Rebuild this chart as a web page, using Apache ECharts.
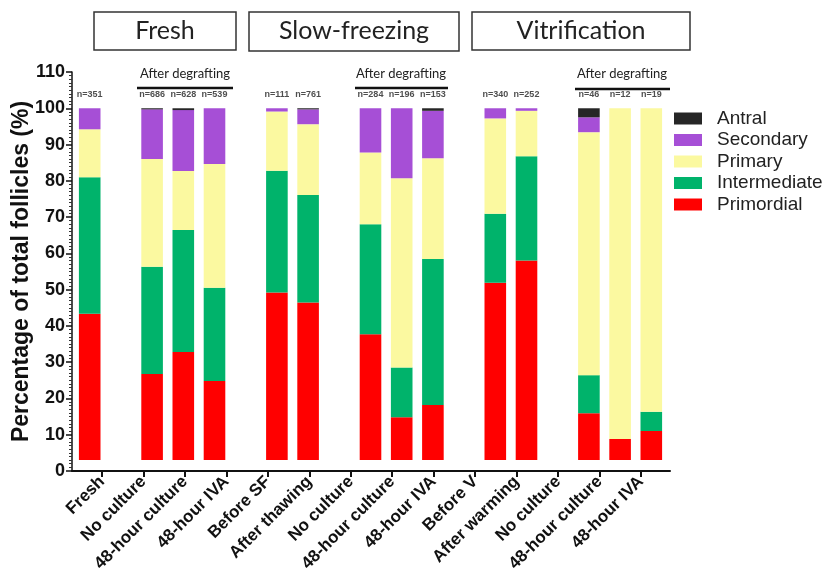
<!DOCTYPE html>
<html>
<head>
<meta charset="utf-8">
<title>Follicle stages</title>
<script src="https://cdn.jsdelivr.net/npm/echarts@6/dist/echarts.min.js"></script>
<style>
  html, body { margin: 0; padding: 0; background: #fff; }
  #chart { width: 831px; height: 583px; }
</style>
</head>
<body>
<div id="chart"></div>
<script>
const categories = ["Fresh", "No culture", "48-hour culture", "48-hour IVA", "Before SF", "After thawing",
  "No culture", "48-hour culture", "48-hour IVA", "Before V", "After warming", "No culture",
  "48-hour culture", "48-hour IVA"];
const nCounts = [351, 686, 628, 539, 111, 761, 284, 196, 153, 340, 252, 46, 12, 19];
const primordial = [43.3, 26.7, 32.8, 24.8, 49.2, 46.4, 37.7, 14.8, 18.2, 51.9, 58.0, 15.9, 8.8, 11.0];
const intermediate = [37.7, 29.6, 33.6, 25.7, 33.6, 29.7, 30.3, 13.7, 40.2, 19.0, 28.8, 10.5, 0, 5.3];
const primary = [13.2, 29.7, 16.3, 34.1, 16.3, 19.5, 19.8, 52.2, 27.8, 26.3, 12.5, 67.0, 91.2, 83.7];
const secondary = [5.8, 13.7, 16.8, 15.4, 0.9, 4.1, 12.2, 19.3, 13.1, 2.8, 0.7, 4.1, 0, 0];
const antral = [0, 0.3, 0.5, 0, 0, 0.3, 0, 0, 0.7, 0, 0, 2.5, 0, 0];
const groupSizes = [1, 3, 2, 3, 2, 3];
const yMin = 0, yMax = 110, yStep = 10;

// bars sit in slots, one empty slot between groups
const slotOf = [];
let s = 0;
groupSizes.forEach(size => {
  for (let i = 0; i < size; i++) slotOf.push(s++);
  s++;
});
const slotCount = s - 1;
const barAt = {};
slotOf.forEach((slot, i) => { barAt[slot] = i; });
function toSlots(arr) {
  const out = new Array(slotCount).fill(null);
  arr.forEach((v, i) => { out[slotOf[i]] = v; });
  return out;
}
const totals = primordial.map((v, i) => v + intermediate[i] + primary[i] + secondary[i] + antral[i]);

const myChart = echarts.init(document.getElementById("chart"));
const fontColor = "#111";
const axisFont = "Liberation Sans";

function barSeries(name, data, color) {
  return {
    name: name,
    type: "bar",
    stack: "total",
    xAxisIndex: 2,
    yAxisIndex: 2,
    barWidth: 21.6,
    clip: true,
    itemStyle: { color: color },
    data: toSlots(data),
  };
}

const option = {
  animation: false,
  grid: [
    { left: 72, top: 72, width: 598, height: 399, containLabel: false, outerBoundsMode: "none" },
    { left: 81.3, top: 72, width: 580.4, height: 399, containLabel: false, outerBoundsMode: "none" },
    { left: 74.1, top: 72, width: 592.8, height: 388, containLabel: false, outerBoundsMode: "none" },
  ],
  legend: {
    orient: "vertical",
    left: 674,
    top: 109,
    padding: 0,
    itemWidth: 28,
    itemHeight: 12,
    itemGap: 2.5,
    icon: "rect",
    data: ["Antral", "Secondary", "Primary", "Intermediate", "Primordial"],
    textStyle: {
      fontFamily: axisFont,
      fontSize: 19,
      lineHeight: 19,
      color: "#222",
      padding: [0, 0, 0, 10],
    },
  },
  xAxis: [
    {
      gridIndex: 0,
      type: "value",
      min: 0,
      max: 1,
      axisLine: { show: true, lineStyle: { color: fontColor, width: 2 } },
      axisTick: { show: false },
      axisLabel: { show: false },
      splitLine: { show: false },
    },
    {
      gridIndex: 1,
      type: "category",
      data: categories,
      axisLine: { show: false },
      axisTick: {
        show: true,
        alignWithLabel: true,
        length: 6,
        lineStyle: { color: fontColor, width: 2 },
      },
      axisLabel: {
        interval: 0,
        rotate: 45,
        margin: 8,
        color: fontColor,
        fontFamily: axisFont,
        fontWeight: "bold",
        fontSize: 17,
      },
      splitLine: { show: false },
    },
    {
      gridIndex: 2,
      type: "category",
      data: new Array(slotCount).fill(""),
      show: false,
    },
  ],
  yAxis: [
    {
      gridIndex: 0,
      type: "value",
      min: yMin,
      max: yMax,
      interval: yStep,
      name: "Percentage of total follicles (%)",
      nameLocation: "middle",
      nameGap: 39,
      nameMoveOverlap: false,
      nameTextStyle: {
        color: fontColor,
        fontFamily: axisFont,
        fontWeight: "bold",
        fontSize: 23,
      },
      axisLine: { show: true, lineStyle: { color: fontColor, width: 1.5 } },
      axisTick: { show: true, length: 6, lineStyle: { color: fontColor, width: 1.5 } },
      minorTick: { show: true, splitNumber: 10, length: 3, lineStyle: { color: "#333", width: 1 } },
      axisLabel: {
        margin: 7,
        color: fontColor,
        fontFamily: axisFont,
        fontWeight: "bold",
        fontSize: 18,
      },
      splitLine: { show: false },
    },
    { gridIndex: 1, type: "value", min: yMin, max: yMax, show: false },
    // bars in the picture start a little above the zero line
    { gridIndex: 2, type: "value", min: 3, max: yMax, show: false },
  ],
  series: [
    barSeries("Primordial", primordial, "#ff0000"),
    barSeries("Intermediate", intermediate, "#00b36b"),
    barSeries("Primary", primary, "#fbf9a0"),
    barSeries("Secondary", secondary, "#a64fd6"),
    barSeries("Antral", antral, "#262626"),
    {
      name: "n",
      type: "scatter",
      xAxisIndex: 2,
      yAxisIndex: 2,
      symbolSize: 0,
      silent: true,
      label: {
        show: true,
        position: "top",
        distance: 9,
        color: "#222",
        fontFamily: axisFont,
        fontWeight: "bold",
        fontSize: 9,
        formatter: p => "n=" + nCounts[barAt[p.dataIndex]],
      },
      data: toSlots(totals),
    },
  ],
  graphic: [
    { type: "rect", shape: { x: 94, y: 12, width: 142, height: 38 }, style: { fill: "#fff", stroke: "#333", lineWidth: 1.5 } },
    { type: "rect", shape: { x: 249, y: 12, width: 210, height: 39 }, style: { fill: "#fff", stroke: "#333", lineWidth: 1.5 } },
    { type: "rect", shape: { x: 472, y: 12, width: 218, height: 38 }, style: { fill: "#fff", stroke: "#333", lineWidth: 1.5 } },
    { type: "text", style: { text: "Fresh", x: 165, y: 31, align: "center", verticalAlign: "middle", fontFamily: "Lato", fontSize: 25, fill: "#222" } },
    { type: "text", style: { text: "Slow-freezing", x: 354, y: 31, align: "center", verticalAlign: "middle", fontFamily: "Lato", fontSize: 25, fill: "#222" } },
    { type: "text", style: { text: "Vitrification", x: 581, y: 31, align: "center", verticalAlign: "middle", fontFamily: "Lato", fontSize: 25, fill: "#222" } },
    { type: "text", style: { text: "After degrafting", x: 185, y: 74, align: "center", verticalAlign: "middle", fontFamily: "Lato", fontSize: 13, fill: "#222" } },
    { type: "text", style: { text: "After degrafting", x: 401, y: 74, align: "center", verticalAlign: "middle", fontFamily: "Lato", fontSize: 13, fill: "#222" } },
    { type: "text", style: { text: "After degrafting", x: 622, y: 74, align: "center", verticalAlign: "middle", fontFamily: "Lato", fontSize: 13, fill: "#222" } },
    { type: "line", shape: { x1: 137, y1: 88, x2: 233, y2: 88 }, style: { stroke: "#111", lineWidth: 2.5 } },
    { type: "line", shape: { x1: 355, y1: 88, x2: 448, y2: 88 }, style: { stroke: "#111", lineWidth: 2.5 } },
    { type: "line", shape: { x1: 575, y1: 89, x2: 670, y2: 89 }, style: { stroke: "#111", lineWidth: 2.5 } },
  ],
};
myChart.setOption(option);
</script>
</body>
</html>
